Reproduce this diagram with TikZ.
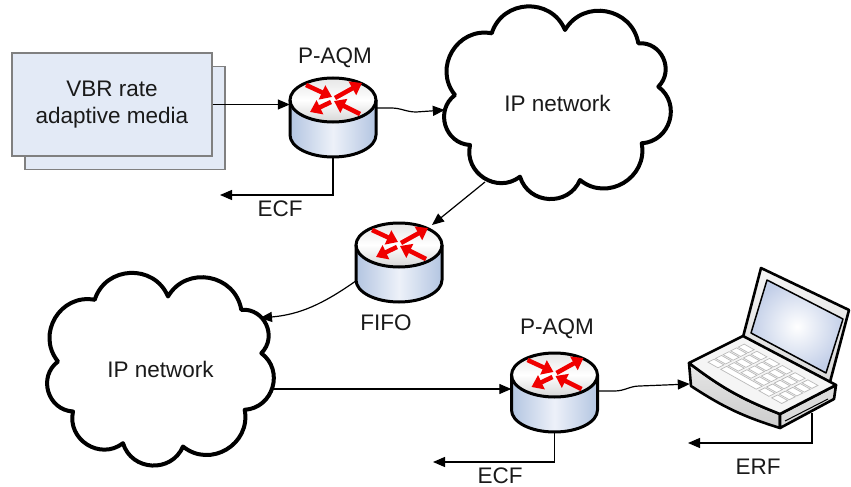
\documentclass[tikz,border=0pt]{standalone}
\usepackage{fontspec}
\setmainfont{Liberation Sans}
\usetikzlibrary{arrows.meta,calc}

\definecolor{boxfill}{HTML}{E3EAF6}
\definecolor{boxline}{HTML}{808080}
\definecolor{bodyedge}{HTML}{B3C5E1}
\definecolor{bodymid}{HTML}{EDF1F9}
\definecolor{capedge}{HTML}{D6D6D6}
\definecolor{arrowred}{HTML}{F00000}
\definecolor{ink}{HTML}{1A1A1A}
\definecolor{screenblue}{HTML}{C3CFE8}

\tikzset{
  % cylinder router icon, drawn around the centre of its bounding node
  router/.pic={
    \fill[left color=bodyedge, right color=bodyedge, middle color=bodymid]
      (-43,17.5) -- (-43,-17.5) arc[start angle=180, end angle=360, x radius=43, y radius=22]
      -- (43,17.5) -- cycle;
    \fill[top color=capedge!60, bottom color=capedge, middle color=white]
      (0,17.5) ellipse[x radius=43, y radius=22];
    \draw[line width=3pt, line join=round]
      (-43,17.5) -- (-43,-17.5) arc[start angle=180, end angle=360, x radius=43, y radius=22]
      -- (43,17.5);
    \draw[line width=3pt] (0,17.5) ellipse[x radius=43, y radius=22];
    \begin{scope}[shift={(0,17.5)}]
      \draw[redarrow] (-27,15) -- (-1,3);
      \draw[redarrow] (27,-14) -- (1,-1);
      \draw[redarrow] (2,2) -- (29,17);
      \draw[redarrow] (-2,-2) -- (-23,-12);
    \end{scope}
  },
  % nine-lobed network cloud
  ipcloud/.pic={
    \draw[cloudline] (-65.8,69.7) to[lobe] (7.5,73) to[lobe] (80.8,59.7)
      to[lobe] (100.8,16.3) to[lobe] (84.2,-40.3) to[lobe] (22.5,-77)
      to[lobe] (-37.5,-73.7) to[lobe] (-87.5,-42) to[lobe] (-102.5,8)
      to[lobe] (-65.8,69.7) -- cycle;
  }
}

\begin{document}
\begin{tikzpicture}[x=1pt, y=1pt,
  every node/.style={text=ink, font=\fontsize{22.5}{26.7}\selectfont},
  link/.style={line width=1.2pt, draw=black, -{Triangle[length=12pt,width=10pt]}},
  redarrow/.style={line width=4.5pt, draw=arrowred, -{Triangle[length=11pt,width=15pt]}},
  lobe/.style={bend left=70, looseness=1.25},
  cloudline/.style={line width=4pt, line join=round, fill=white},
  rtrbox/.style={minimum width=86, minimum height=79, inner sep=0pt},
  mediabox/.style={draw=boxline, fill=boxfill, line width=1.3pt, minimum width=200, minimum height=103, inner sep=0pt},
  keycap/.style={fill=white, draw=gray!55, line width=0.7pt}
]
\useasboundingbox (0,0) rectangle (851,-487);

% ---- source: stacked media box ----
\node[mediabox] (mediaback) at (125,-118) {};
\node[mediabox, align=center] (media) at (112,-104.5) {VBR rate\\adaptive media};

% ---- clouds ----
\pic at (557.5,-103) {ipcloud};
\node[minimum width=221, minimum height=194, inner sep=0pt] (net1) at (557.5,-103) {IP network};
\pic at (160.5,-369.5) {ipcloud};
\node[minimum width=221, minimum height=194, inner sep=0pt] (net2) at (160.5,-369.5) {IP network};

% ---- routers ----
\node[rtrbox] (r1) at (333,-117.5) {};
\pic at (r1.center) {router};
\node (r1lbl) at (335,-57.5) {P-AQM};

\node[rtrbox] (r2) at (399,-262.5) {};
\pic at (r2.center) {router};
\node (r2lbl) at (386,-323) {FIFO};

\node[rtrbox] (r3) at (554.5,-392.5) {};
\pic at (r3.center) {router};
\node (r3lbl) at (557,-329) {P-AQM};

% ---- laptop ----
\node[minimum width=162, minimum height=163, inner sep=0pt] (pc) at (770,-346.5) {};
\begin{scope}[line width=2.6pt, line join=round]
  % lid and screen
  \draw[top color=gray!8, bottom color=gray!30] (743,-337) -- (761,-268) -- (849,-310) -- (830,-382) -- cycle;
  \draw[line width=1.5pt, inner color=white, outer color=screenblue] (751,-333) -- (767,-280) -- (843,-319) -- (826,-373) -- cycle;
  % base: front face, right face, deck
  \draw[top color=gray!20, bottom color=gray!40] (689,-363) to[bend right=8] (780,-414) -- (780,-428) to[bend left=8] (691,-386) -- cycle;
  \draw[fill=gray!28] (780,-414) -- (836,-385) -- (834,-399) -- (780,-428) -- cycle;
  \draw[line width=1pt] (785,-421) -- (828,-399);
  \draw[fill=gray!8] (689,-363) to[bend right=8] (780,-414) -- (836,-385) -- (743,-336) -- cycle;
\end{scope}
% keyboard, laid out in the deck plane
\begin{scope}[shift={(689,-363)}, x={(91pt,-51pt)}, y={(54pt,27pt)}]
  \foreach \i in {0,...,5}
    \foreach \j in {1,...,4}
      \draw[keycap] (0.09+0.14*\i, 0.2+0.14*\j) -- ++(0.11,0) -- ++(0,0.11) -- ++(-0.11,0) -- cycle;
  \foreach \i in {0,4,5}
    \draw[keycap] (0.09+0.14*\i, 0.2) -- ++(0.11,0) -- ++(0,0.11) -- ++(-0.11,0) -- cycle;
  \draw[keycap] (0.23, 0.2) -- ++(0.39,0) -- ++(0,0.11) -- ++(-0.39,0) -- cycle;
\end{scope}

% ---- data path ----
\draw[link] (media.east) -- (media.east -| r1.west);
\draw[link] ($(r1.east)+(0,9.5)$) -- ++(15,0) to[out=0,in=180] ++(25,-4) -- ($(net1.west)+(-2,-7)$);
\draw[link] ($(net1.center)+(-72.5,-79)$) -- ($(r2.center)+(33,37.5)$);
\draw[link] ($(r2.west)+(0,-18.5)$) to[out=215,in=5] ($(net2.center)+(99.5,51.5)$);
\coordinate (n2out) at ($(net2.east)+(0,-19.5)$);
\draw[link] (n2out) -- (n2out -| r3.west);
\draw[link] ($(r3.east)+(0,1.5)$) -- ++(17,0) to[out=0,in=180] ++(25,5) -- ($(pc.west)+(1,-37.5)$);

% ---- feedback ----
\coordinate (ecf1end) at (220,-195);
\draw[link] (r1.south) |- (ecf1end);
\node (ecf1) at (280,-209) {ECF};

\coordinate (ecf2end) at (433,-462);
\draw[link] (r3.south) |- (ecf2end);
\node (ecf2) at (500,-476) {ECF};

\coordinate (erfend) at (688,-443);
\draw[link] ($(pc.south)+(42,15)$) |- (erfend);
\node (erf) at (758,-467) {ERF};
\end{tikzpicture}
\end{document}
